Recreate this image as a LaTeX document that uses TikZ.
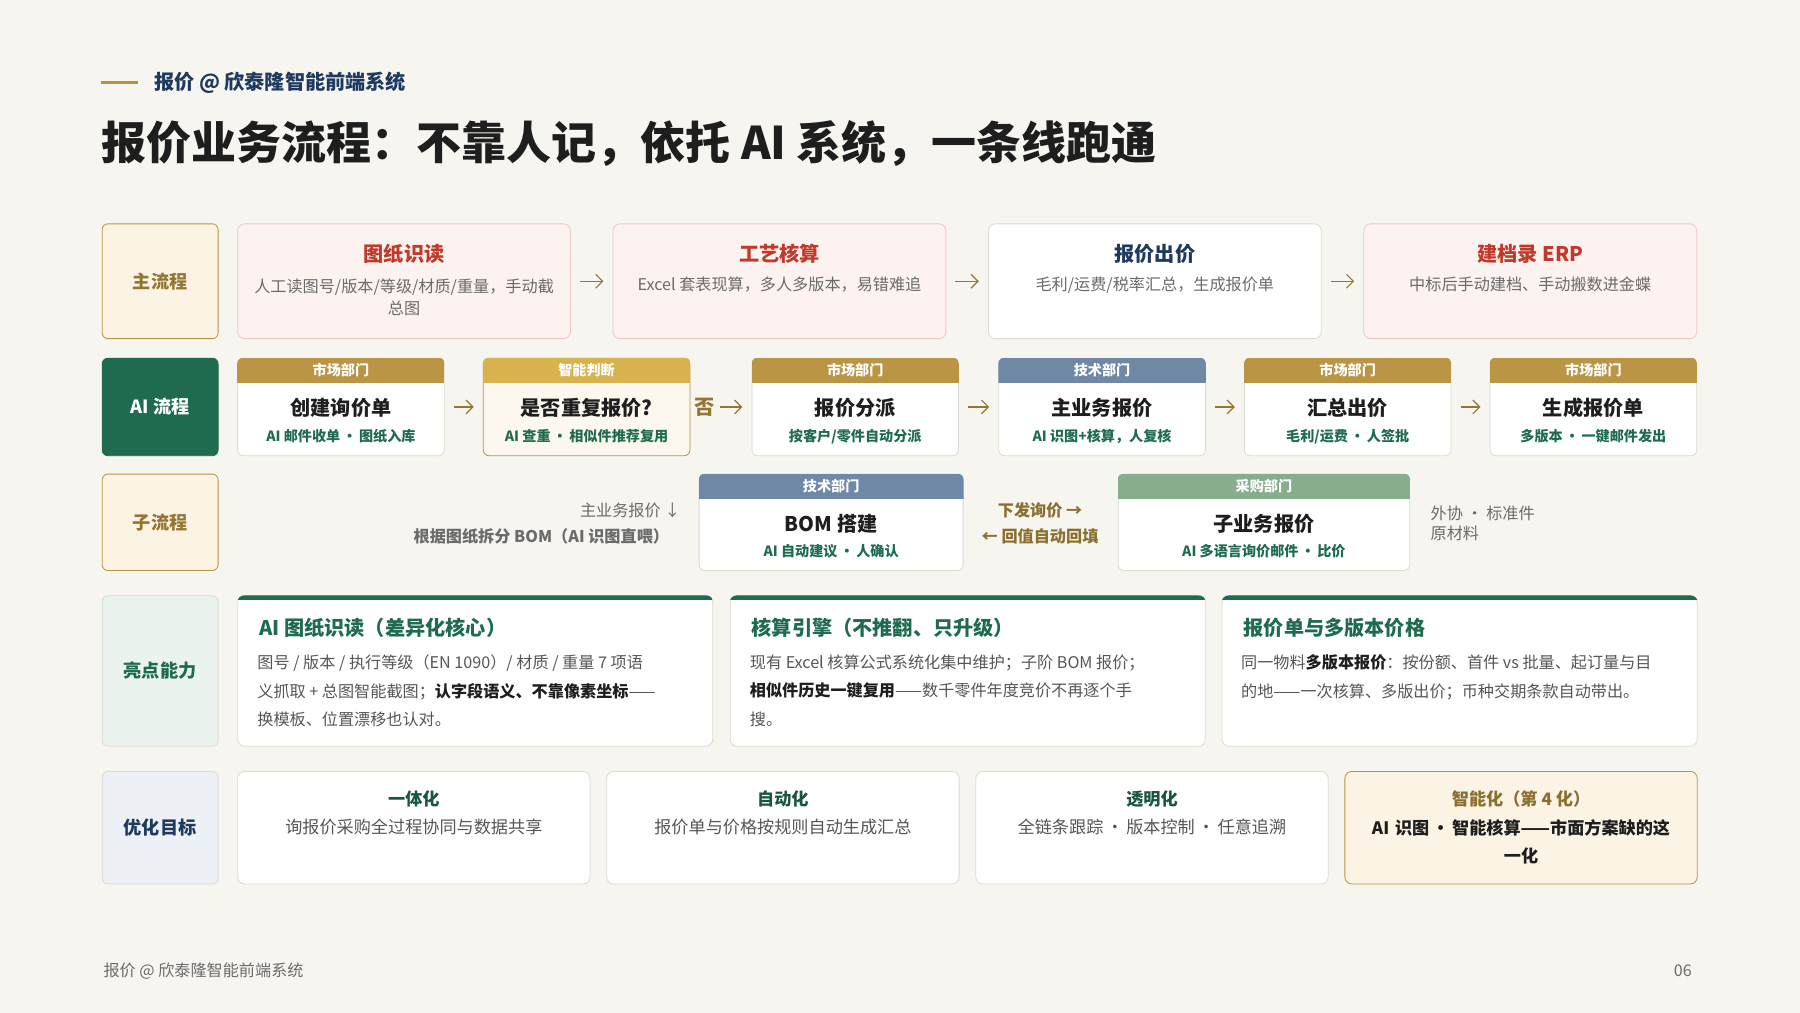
\documentclass[tikz,border=0pt]{standalone}
\usepackage{fontspec}
\setmainfont{Noto Sans CJK SC}
\usetikzlibrary{arrows.meta,positioning}
\definecolor{paper}{HTML}{F7F5F0}
\definecolor{gold}{HTML}{B8943F}
\definecolor{goldhd}{HTML}{B99544}
\definecolor{goldlt}{HTML}{D8B24C}
\definecolor{cream}{HTML}{FBF4E4}
\definecolor{deepgreen}{HTML}{1F6B4F}
\definecolor{navy}{HTML}{1F3A5F}
\definecolor{brick}{HTML}{C0392B}
\definecolor{txtgray}{HTML}{6B6B6B}
\definecolor{slate}{HTML}{6F88A6}
\definecolor{sage}{HTML}{86AD8E}
\definecolor{pinkfill}{HTML}{FCF2EF}
\definecolor{pinkline}{HTML}{EBC9C2}
\definecolor{boxline}{HTML}{DDDAD3}
\definecolor{mint}{HTML}{EAF3EE}
\definecolor{icy}{HTML}{EDF1F5}
\definecolor{ink}{HTML}{1E1E1E}
\begin{document}
\begin{tikzpicture}[x=0.02cm,y=-0.02cm,
  % 行标签
  rowlab/.style={draw=gold,fill=cream,rounded corners=0.1cm,minimum width=2.02cm,
    font=\fontsize{9}{11}\selectfont\bfseries,text=gold!80!black},
  % 主流程的框
  stepbox/.style={draw=pinkline,fill=pinkfill,rounded corners=0.12cm,minimum width=5.8cm,minimum height=2cm},
  stepwhite/.style={stepbox,draw=boxline,fill=white},
  steptitle/.style={font=\fontsize{10}{12}\selectfont\bfseries,text=brick},
  stepsub/.style={font=\fontsize{8}{11}\selectfont,text=txtgray,align=center},
  % 卡片
  card/.style={draw=boxline,fill=white,rounded corners=0.1cm,minimum height=1.7cm},
  card gold/.style={card,draw=gold,fill=cream!60},
  hdr/.style={font=\fontsize{7}{8}\selectfont\bfseries,text=white},
  ctitle/.style={font=\fontsize{10}{12}\selectfont\bfseries,text=ink},
  csub/.style={font=\fontsize{7}{8}\selectfont\bfseries,text=deepgreen},
  flow/.style={-{Straight Barb[length=1.2mm]},draw=gold!80!black,semithick},
  note/.style={font=\fontsize{8}{10}\selectfont,text=txtgray},
  hibox/.style={draw=boxline,fill=white,rounded corners=0.12cm,minimum width=8.28cm,minimum height=2.62cm},
  hibody/.style={font=\fontsize{8}{14.2}\selectfont,text=txtgray!80!black,align=left,anchor=north west},
  goalbox/.style={draw=boxline,fill=white,rounded corners=0.12cm,minimum width=6.14cm,minimum height=1.96cm},
  goaltitle/.style={font=\fontsize{8.5}{10}\selectfont\bfseries,text=deepgreen!80!black},
  goalsub/.style={font=\fontsize{8.5}{14}\selectfont,text=txtgray!80!black,align=center}]

\useasboundingbox[fill=paper] (0,0) rectangle (1568,882);

% 页眉
\draw[gold,line width=0.05cm] (88,72) -- (120,72);
\node[anchor=west,font=\fontsize{10}{12}\selectfont\bfseries,text=navy] (brand) at (128,72) {报价 @ 欣泰隆智能前端系统};
\node[anchor=west,font=\fontsize{22.3}{25}\selectfont\bfseries,text=ink] (title) at (82,125)
  {报价业务流程：不靠人记，依托 AI 系统，一条线跑通};

% 主流程
\node[rowlab,minimum height=2cm] (lab1) at (139.5,245) {主流程};
\node[stepbox] (s1) at (352,245) {};
\node[stepbox] (s2) at (679,245) {};
\node[stepwhite] (s3) at (1006,245) {};
\node[stepbox] (s4) at (1333,245) {};
\node[steptitle] at (352,221) {图纸识读};
\node[stepsub,text width=5.3cm] at (352,259) {人工读图号/版本/等级/材质/重量，手动截\\总图};
\node[steptitle] at (679,221) {工艺核算};
\node[stepsub] at (679,248) {Excel 套表现算，多人多版本，易错难追};
\node[steptitle,text=navy] at (1006,221) {报价出价};
\node[stepsub] at (1006,248) {毛利/运费/税率汇总，生成报价单};
\node[steptitle] at (1333,221) {建档录 ERP};
\node[stepsub] at (1333,248) {中标后手动建档、手动搬数进金蝶};
\foreach \a/\b in {s1/s2,s2/s3,s3/s4}
  \draw[flow] ([xshift=0.16cm]\a.east) -- ([xshift=-0.16cm]\b.west);

% AI 流程
\node[rowlab,fill=deepgreen,draw=deepgreen,text=white,minimum height=1.7cm] (lab2) at (139.5,354.5) {AI 流程};
\foreach \cx/\cs/\hc/\dept/\ctxt/\csb [count=\i] in {
  297/card/goldhd/市场部门/创建询价单/AI 邮件收单\,•\,图纸入库,
  511/card gold/goldlt/智能判断/是否重复报价?/AI 查重\,•\,相似件推荐复用,
  745/card/goldhd/市场部门/报价分派/{按客户/零件自动分派},
  960/card/slate/技术部门/主业务报价/AI 识图+核算，人复核,
  1174/card/goldhd/市场部门/汇总出价/{毛利/运费\,•\,人签批},
  1388/card/goldhd/市场部门/生成报价单/多版本\,•\,一键邮件发出}{
  \node[\cs,minimum width=3.6cm] (a\i) at (\cx,354.5) {};
  \begin{scope}
    \clip[rounded corners=0.1cm] (a\i.south west) rectangle (a\i.north east);
    \fill[\hc] (a\i.north west) rectangle ([yshift=-0.44cm]a\i.north east);
  \end{scope}
  \node[hdr] at ([yshift=-0.22cm]a\i.north) {\dept};
  \node[ctitle] at (\cx,355) {\ctxt};
  \node[csub] at (\cx,380) {\csb};
}
\foreach \a/\b in {a1/a2,a3/a4,a4/a5,a5/a6}
  \draw[flow] ([xshift=0.16cm]\a.east) -- ([xshift=-0.16cm]\b.west);
\draw[flow] ([xshift=0.52cm]a2.east) -- ([xshift=-0.16cm]a3.west)
  node[pos=0,left=-1pt,font=\fontsize{10}{12}\selectfont\bfseries,text=gold!80!black] {否};

% 子流程
\node[rowlab,minimum height=1.68cm] (lab3) at (139.5,455) {子流程};
\node[note,anchor=east] at (599,445) {主业务报价 ↓};
\node[note,anchor=east,font=\fontsize{8}{10}\selectfont\bfseries] at (589,467) {根据图纸拆分 BOM（AI 识图直喂）};
\foreach \cx/\w/\hc/\dept/\ctxt/\csb [count=\i] in {
  724/4.6/slate/技术部门/BOM 搭建/AI 自动建议\,•\,人确认,
  1101/5.08/sage/采购部门/子业务报价/AI 多语言询价邮件\,•\,比价}{
  \node[card,minimum width=\w cm,minimum height=1.68cm] (b\i) at (\cx,455) {};
  \begin{scope}
    \clip[rounded corners=0.1cm] (b\i.south west) rectangle (b\i.north east);
    \fill[\hc] (b\i.north west) rectangle ([yshift=-0.44cm]b\i.north east);
  \end{scope}
  \node[hdr] at ([yshift=-0.22cm]b\i.north) {\dept};
  \node[ctitle] at (\cx,456) {\ctxt};
  \node[csub] at (\cx,480) {\csb};
}
\node[font=\fontsize{8}{10}\selectfont\bfseries,text=gold!75!black] (ask) at (906,445) {下发询价 →};
\node[font=\fontsize{8}{10}\selectfont\bfseries,text=gold!75!black] (back) at (906,467) {← 回值自动回填};
\node[note,anchor=west,align=left] at (1240,456) {外协 · 标准件\\原材料};

% 亮点能力
\node[rowlab,fill=mint,draw=boxline,text=deepgreen,minimum height=2.62cm] (lab4) at (139.5,584.5) {亮点能力};
\foreach \cx/\t [count=\i] in {414/AI 图纸识读（差异化核心）,843/核算引擎（不推翻、只升级）,1271.5/报价单与多版本价格}{
  \node[hibox] (h\i) at (\cx,584.5) {};
  \begin{scope}
    \clip[rounded corners=0.12cm] (h\i.south west) rectangle (h\i.north east);
    \fill[deepgreen] (h\i.north west) rectangle ([yshift=-0.08cm]h\i.north east);
  \end{scope}
  \node[anchor=west,font=\fontsize{10}{12}\selectfont\bfseries,text=deepgreen] at ([xshift=0.26cm]h\i.west |- 0,547) {\t};
}
\node[hibody] at (218,564) {图号 / 版本 / 执行等级（EN 1090）/ 材质 / 重量 7 项语\\义抓取 + 总图智能截图；\textbf{\color{ink}认字段语义、不靠像素坐标}——\\换模板、位置漂移也认对。};
\node[hibody] at (647,564) {现有 Excel 核算公式系统化集中维护；子阶 BOM 报价；\\\textbf{\color{ink}相似件历史一键复用}——数千零件年度竞价不再逐个手\\搜。};
\node[hibody] at (1075,564) {同一物料\textbf{\color{ink}多版本报价}：按份额、首件 vs 批量、起订量与目\\的地——一次核算、多版出价；币种交期条款自动带出。};

% 优化目标
\node[rowlab,fill=icy,draw=boxline,text=navy,minimum height=1.96cm] (lab5) at (139.5,721) {优化目标};
\node[goalbox] (g1) at (360.5,721) {};
\node[goalbox] (g2) at (682,721) {};
\node[goalbox] (g3) at (1003.5,721) {};
\node[goalbox,draw=gold,fill=cream] (g4) at (1325,721) {};
\node[goaltitle] at (360.5,696) {一体化};
\node[goalsub] at (360.5,720) {询报价采购全过程协同与数据共享};
\node[goaltitle] at (682,696) {自动化};
\node[goalsub] at (682,720) {报价单与价格按规则自动生成汇总};
\node[goaltitle] at (1003.5,696) {透明化};
\node[goalsub] at (1003.5,720) {全链条跟踪\,·\,版本控制\,·\,任意追溯};
\node[goaltitle,text=gold!75!black] at (1325,696) {智能化（第 4 化）};
\node[goalsub,font=\fontsize{8.5}{14}\selectfont\bfseries,text=ink,text width=5.6cm] at (1325,733) {AI 识图\,•\,智能核算——市面方案缺的这\\一化};

% 页脚
\node[anchor=west,font=\fontsize{8}{10}\selectfont,text=txtgray] (foot) at (84,846) {报价 @ 欣泰隆智能前端系统};
\node[anchor=east,font=\fontsize{8}{10}\selectfont,text=txtgray] (page) at (1480,846) {06};
\end{tikzpicture}
\end{document}
